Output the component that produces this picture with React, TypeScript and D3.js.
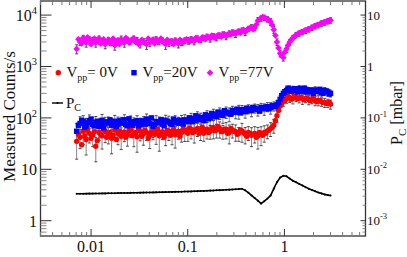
import React from "react";
import * as d3 from "d3";

// x positions of the first sample set (log axis)
const X = [
  0.0071, 0.0077, 0.0083, 0.0089, 0.0096, 0.0104, 0.0112, 0.0121, 0.013, 0.014,
  0.0151, 0.0163, 0.0176, 0.019, 0.0205, 0.0221, 0.0238, 0.0257, 0.0277, 0.0299,
  0.0322, 0.0348, 0.0375, 0.0405, 0.0437, 0.0471, 0.0508, 0.0548, 0.0591, 0.0638,
  0.0688, 0.0742, 0.08, 0.0863, 0.0931, 0.1004, 0.1083, 0.1168, 0.126, 0.136,
  0.1467, 0.1582, 0.1707, 0.1841, 0.1986, 0.2142, 0.2311, 0.2493, 0.2689, 0.29,
  0.313, 0.3376, 0.3641, 0.3928, 0.4237, 0.457, 0.493, 0.5318, 0.5737, 0.6188,
  0.6675, 0.72, 0.7767, 0.8378, 0.9037, 0.9748, 1.0515, 1.1342, 1.2235, 1.3198,
  1.4236, 1.5356, 1.6565, 1.7868, 1.9274, 2.0791, 2.2427, 2.4192, 2.6095, 2.8148,
  3.0,
];
// x positions of the interleaved second sample set
const X_B = [
  0.0074, 0.008, 0.0086, 0.0092, 0.01, 0.0108, 0.0116, 0.0125, 0.0135, 0.0145,
  0.0157, 0.0169, 0.0183, 0.0197, 0.0213, 0.0229, 0.0247, 0.0267, 0.0288, 0.031,
  0.0335, 0.0361, 0.039, 0.0421, 0.0454, 0.0489, 0.0528, 0.0569, 0.0614, 0.0663,
  0.0714, 0.077, 0.0831, 0.0896, 0.0967, 0.1043, 0.1125, 0.1213, 0.1309, 0.1413,
  0.1524, 0.1643, 0.1773, 0.1912, 0.2062, 0.2225, 0.24, 0.2589, 0.2793, 0.3013,
  0.325, 0.3506, 0.3782, 0.408, 0.44, 0.4747, 0.512, 0.5523, 0.5958, 0.6427,
  0.6932, 0.7478, 0.8067, 0.8701, 0.9386, 1.0124, 1.0921, 1.178, 1.2707, 1.3707,
  1.4785, 1.5949, 1.7204, 1.8558, 2.0018, 2.1594, 2.3293, 2.5126, 2.7103, 2.906,
];

const MAG = [
  2200, 3000, 3600, 2900, 3400, 3200, 2900, 3500, 3100, 2700,
  3300, 3000, 2600, 3200, 3400, 2900, 3300, 3100, 3500, 3200,
  2800, 3100, 2700, 2900, 3300, 3400, 3100, 3200, 2700, 2900,
  3000, 3200, 2800, 3000, 3200, 3200, 3400, 3100, 3500, 3300,
  3600, 3800, 3500, 3900, 3700, 4000, 4200, 3900, 4400, 4600,
  4300, 4800, 5000, 4700, 5400, 5800, 5600, 7800, 8600, 8900,
  8300, 7400, 5200, 3000, 1800, 1500, 2200, 3000, 3600, 4100,
  4400, 4700, 5000, 5300, 5700, 6100, 6400, 6900, 7200, 7600,
  7900,
];
const MAG_B = [
  3400, 2800, 3200, 3700, 2700, 3500, 3300, 2800, 3400, 3000,
  2800, 3500, 3100, 2700, 3100, 3600, 2900, 3400, 3000, 2700,
  3300, 2900, 3500, 3100, 2800, 3000, 3500, 2900, 3300, 3100,
  2700, 3100, 3300, 2900, 3400, 3000, 3300, 3600, 3200, 3700,
  3400, 3700, 4000, 3600, 4100, 3800, 4300, 4100, 4200, 4500,
  4700, 4500, 5200, 5100, 5600, 5300, 6500, 8300, 9200, 8600,
  7900, 6400, 4000, 2300, 1600, 1900, 2600, 3300, 3800, 4300,
  4600, 4900, 5200, 5500, 5900, 6300, 6700, 7100, 7500, 7800,
];
const BLUE = [
  55, 78, 85, 70, 88, 75, 82, 68, 90, 76,
  80, 72, 86, 74, 79, 92, 70, 84, 77, 88,
  73, 81, 95, 78, 69, 85, 80, 76, 90, 83,
  74, 88, 79, 86, 92, 84, 98, 90, 105, 95,
  88, 110, 100, 118, 105, 125, 112, 130, 120, 140,
  128, 135, 145, 132, 150, 140, 155, 145, 160, 150,
  165, 158, 170, 180, 230, 300, 340, 360, 350, 340,
  370, 330, 360, 340, 320, 350, 330, 310, 340, 320,
  300,
];
const BLUE_B = [
  72, 90, 66, 80, 95, 70, 86, 78, 64, 84,
  92, 76, 68, 88, 82, 74, 96, 72, 85, 70,
  88, 76, 84, 100, 74, 82, 92, 70, 86, 78,
  95, 82, 90, 76, 88, 100, 86, 110, 92, 102,
  115, 96, 122, 108, 130, 115, 138, 125, 118, 135,
  148, 125, 140, 155, 138, 160, 148, 135, 155, 162,
  150, 172, 165, 200, 270, 320, 380, 330, 370, 320,
  350, 380, 320, 350, 300, 330, 360, 300, 330, 290,
];
const RED = [
  35, 42, 55, 38, 50, 46, 28, 52, 45, 55,
  48, 40, 58, 50, 44, 53, 47, 60, 50, 43,
  55, 49, 52, 46, 58, 51, 45, 54, 48, 56,
  50, 47, 55, 52, 58, 50, 60, 54, 62, 56,
  50, 60, 55, 65, 58, 62, 55, 60, 52, 58,
  54, 50, 56, 48, 52, 46, 50, 45, 48, 52,
  56, 62, 72, 110, 170, 210, 235, 250, 240, 255,
  245, 235, 240, 225, 230, 215, 220, 205, 200, 195,
  185,
];
const RED_B = [
  48, 30, 44, 58, 40, 54, 36, 48, 60, 42,
  52, 46, 38, 55, 50, 42, 56, 45, 52, 62,
  44, 58, 40, 52, 48, 60, 50, 42, 57, 46,
  58, 52, 44, 60, 54, 64, 52, 58, 50, 66,
  58, 52, 62, 56, 68, 54, 60, 50, 62, 55,
  48, 58, 52, 44, 50, 48, 42, 52, 46, 50,
  58, 66, 88, 140, 190, 220, 260, 230, 265, 235,
  250, 225, 245, 215, 235, 205, 215, 200, 190, 200,
];
// chamber pressure in µbar (1e-3 mbar)
const PC_UBAR = [
  3.34, 3.35, 3.35, 3.36, 3.37, 3.37, 3.38, 3.39, 3.4, 3.4,
  3.41, 3.42, 3.43, 3.44, 3.45, 3.46, 3.47, 3.48, 3.49, 3.5,
  3.51, 3.52, 3.53, 3.54, 3.55, 3.56, 3.58, 3.59, 3.6, 3.62,
  3.63, 3.64, 3.66, 3.67, 3.69, 3.7, 3.72, 3.74, 3.76, 3.78,
  3.8, 3.82, 3.85, 3.87, 3.9, 3.93, 3.96, 3.99, 4.02, 4.06,
  4.09, 4.13, 4.17, 3.9, 3.5, 3.1, 2.75, 2.45, 2.15, 2.4,
  2.7, 3.1, 4.2, 5.6, 6.9, 7.5, 7.3, 6.6, 6.0, 5.6,
  5.2, 4.85, 4.5, 4.2, 3.95, 3.75, 3.55, 3.4, 3.25, 3.15,
  3.1,
];

const RED_ERR = [
  0.55, 0.4, 0.45, 0.5, 0.35, 0.4, 0.5, 0.3, 0.45, 0.4,
  0.35, 0.5, 0.3, 0.4, 0.45, 0.35, 0.4, 0.3, 0.45, 0.5,
  0.35, 0.4, 0.3, 0.45, 0.35, 0.4, 0.5, 0.3, 0.4, 0.35,
  0.4, 0.45, 0.3, 0.35, 0.4, 0.3, 0.35, 0.4, 0.3, 0.35,
  0.3, 0.35, 0.3, 0.4, 0.3, 0.35, 0.3, 0.35, 0.4, 0.3,
  0.35, 0.3, 0.4, 0.35, 0.3, 0.4, 0.35, 0.45, 0.4, 0.35,
  0.3, 0.3, 0.3, 0.25, 0.2, 0.2, 0.18, 0.2, 0.22, 0.18,
  0.2, 0.22, 0.18, 0.2, 0.18, 0.2, 0.22, 0.18, 0.2, 0.18,
  0.2,
];
const BLUE_ERR = [
  0.4, 0.35, 0.3, 0.4, 0.3, 0.35, 0.3, 0.4, 0.3, 0.35,
  0.3, 0.35, 0.3, 0.4, 0.3, 0.25, 0.35, 0.3, 0.3, 0.25,
  0.35, 0.3, 0.25, 0.3, 0.4, 0.3, 0.3, 0.35, 0.25, 0.3,
  0.35, 0.25, 0.3, 0.3, 0.25, 0.3, 0.25, 0.3, 0.25, 0.3,
  0.3, 0.25, 0.3, 0.25, 0.3, 0.25, 0.3, 0.25, 0.3, 0.2,
  0.25, 0.3, 0.2, 0.25, 0.2, 0.25, 0.2, 0.25, 0.2, 0.25,
  0.2, 0.25, 0.2, 0.2, 0.2, 0.18, 0.15, 0.15, 0.18, 0.15,
  0.15, 0.18, 0.15, 0.15, 0.18, 0.15, 0.15, 0.18, 0.15, 0.15,
  0.15,
];
const MAG_ERR = [
  0.2, 0.15, 0.12, 0.18, 0.12, 0.15, 0.18, 0.12, 0.15, 0.18,
  0.12, 0.15, 0.2, 0.12, 0.15, 0.18, 0.12, 0.15, 0.12, 0.15,
  0.18, 0.12, 0.2, 0.15, 0.12, 0.12, 0.15, 0.12, 0.2, 0.15,
  0.15, 0.12, 0.18, 0.15, 0.12, 0.15, 0.12, 0.15, 0.12, 0.12,
  0.12, 0.12, 0.15, 0.12, 0.15, 0.12, 0.12, 0.15, 0.12, 0.12,
  0.15, 0.12, 0.12, 0.15, 0.12, 0.12, 0.12, 0.15, 0.12, 0.12,
  0.12, 0.15, 0.15, 0.15, 0.15, 0.15, 0.15, 0.12, 0.12, 0.12,
  0.12, 0.12, 0.12, 0.12, 0.12, 0.12, 0.12, 0.12, 0.12, 0.12,
  0.12,
];

const X_TICKS = [0.01, 0.1, 1];
const X_TICK_LABELS = ["0.01", "0.1", "1"];
const LEFT_EXP = [0, 1, 2, 3, 4];
const RIGHT_EXP = [-3, -2, -1, 0, 1];

const W = 407, H = 257;
const L = 40.5, R = 365.5, T = 1, B = 236;
const FONT = "'Liberation Serif', 'Times New Roman', serif";

export default function App() {
  const x = d3.scaleLog().domain([0.003, 6.9]).range([L, R]);
  const y = d3.scaleLog().domain([0.504, 18800]).range([B, T]);
  const yR = d3.scaleLog().domain([0.000504, 18.8]).range([B, T]);

  const xMinor: number[] = [];
  for (let e = -3; e <= 0; e++) for (let m = 1; m <= 9; m++) {
    const v = m * Math.pow(10, e);
    if (v >= 0.003 && v <= 6.9) xMinor.push(v);
  }
  const yMinor: number[] = [];
  for (let e = -1; e <= 4; e++) for (let m = 1; m <= 9; m++) {
    const v = m * Math.pow(10, e);
    if (v >= 0.504 && v <= 18800) yMinor.push(v);
  }
  const yRMinor = yMinor.map((v) => v / 1000);

  const errBars = (xs: number[], vals: number[], errs: number[], key: string, col: string) =>
    vals.map((v, i) => {
      const px = x(xs[i]);
      const e = errs[i] ?? 0.2;
      const lo = Math.max(v * (1 - e), 0.6);
      const hi = v * (1 + e);
      return (
        <g key={key + i} stroke={col} strokeWidth={0.9}>
          <line x1={px} x2={px} y1={y(lo)} y2={y(hi)} />
          <line x1={px - 1.5} x2={px + 1.5} y1={y(lo)} y2={y(lo)} stroke="#333" />
          <line x1={px - 1.5} x2={px + 1.5} y1={y(hi)} y2={y(hi)} stroke="#333" />
        </g>
      );
    });

  const circles = (xs: number[], vals: number[], key: string) =>
    vals.map((v, i) => <circle key={key + i} cx={x(xs[i])} cy={y(v)} r={2.7} fill="#ff0000" />);
  const squares = (xs: number[], vals: number[], key: string) =>
    vals.map((v, i) => (
      <rect key={key + i} x={x(xs[i]) - 2.7} y={y(v) - 2.7} width={5.4} height={5.4} fill="#0000ff" />
    ));
  const diamonds = (xs: number[], vals: number[], key: string) =>
    vals.map((v, i) => {
      const cx = x(xs[i]), cy = y(v), s = 3.3;
      return <path key={key + i} d={`M${cx},${cy - s}L${cx + s},${cy}L${cx},${cy + s}L${cx - s},${cy}Z`} fill="#ff00ff" />;
    });

  const pcLine = d3
    .line<number>()
    .x((_, i) => x(X[i]))
    .y((v) => yR(v / 1000))
    .curve(d3.curveLinear);

  const sup = (base: string, exp: string, fs: number) => (
    <>
      {base}
      <tspan fontSize={fs * 0.65} dy={-fs * 0.45}>{exp}</tspan>
    </>
  );

  const legendItem = (val: string) => (
    <>
      V<tspan fontSize={10} dy={3.5}>pp</tspan>
      <tspan dy={-3.5}>{val}</tspan>
    </>
  );

  return (
    <svg width={W} height={H} style={{ position: "absolute", left: 0, top: 0, background: "#fff" }} fontFamily={FONT}>
      {/* error bars */}
      {errBars(X, RED, RED_ERR, "re", "#777")}
      {errBars(X, BLUE, BLUE_ERR, "be", "#777")}
      {circles(X, RED, "r")}
      {circles(X_B, RED_B, "rb")}
      {squares(X, BLUE, "b")}
      {squares(X_B, BLUE_B, "bb")}
      {errBars(X, MAG, MAG_ERR, "me", "#444")}
      {diamonds(X, MAG, "m")}
      {diamonds(X_B, MAG_B, "mb")}
      {/* pressure line */}
      <path d={pcLine(PC_UBAR) || ""} fill="none" stroke="#000" strokeWidth={1.6} />
      {PC_UBAR.map((v, i) => (
        <circle key={"p" + i} cx={x(X[i])} cy={yR(v / 1000)} r={1} fill="#000" />
      ))}

      {/* frame */}
      <rect x={L} y={T} width={R - L} height={B - T} fill="none" stroke="#333" strokeWidth={1.3} />

      {/* x ticks */}
      {xMinor.map((v, i) => {
        const major = X_TICKS.some((t) => Math.abs(t - v) / t < 1e-6);
        const len = major ? 7 : 4;
        return (
          <g key={"xt" + i} stroke={major ? "#333" : "#777"} strokeWidth={1}>
            <line x1={x(v)} x2={x(v)} y1={B} y2={B - len} />
            <line x1={x(v)} x2={x(v)} y1={T} y2={T + len} />
          </g>
        );
      })}
      {X_TICKS.map((v, i) => (
        <text key={"xl" + i} x={x(v)} y={252} textAnchor="middle" fontSize={16} fill="#111">
          {X_TICK_LABELS[i]}
        </text>
      ))}

      {/* left ticks */}
      {yMinor.map((v, i) => {
        const major = Math.abs(Math.log10(v) - Math.round(Math.log10(v))) < 1e-6;
        return (
          <line key={"yl" + i} x1={L} x2={L + (major ? 11 : 6)} y1={y(v)} y2={y(v)} stroke={major ? "#333" : "#888"} strokeWidth={1} />
        );
      })}
      {LEFT_EXP.map((e) => (
        <text key={"ly" + e} x={37} y={y(Math.pow(10, e)) + 6} textAnchor="end" fontSize={16} fill="#111">
          {e === 0 ? "1" : e === 1 ? "10" : sup("10", String(e), 16)}
        </text>
      ))}

      {/* right ticks */}
      {yRMinor.map((v, i) => {
        const major = Math.abs(Math.log10(v) - Math.round(Math.log10(v))) < 1e-6;
        return (
          <line key={"yr" + i} x1={R} x2={R - (major ? 5 : 3)} y1={yR(v)} y2={yR(v)} stroke={major ? "#333" : "#888"} strokeWidth={1} />
        );
      })}
      {RIGHT_EXP.map((e) => (
        <text key={"ry" + e} x={367} y={yR(Math.pow(10, e)) + 4.5} textAnchor="start" fontSize={13} fill="#111">
          {e === 0 ? "1" : e === 1 ? "10" : sup("10", String(e), 13)}
        </text>
      ))}

      {/* axis titles */}
      <text transform={`translate(15,116.5) rotate(-90)`} textAnchor="middle" fontSize={17} fill="#111">
        Measured Counts/s
      </text>
      <text transform={`translate(402,113) rotate(-90)`} textAnchor="middle" fontSize={16} fill="#111">
        P<tspan fontSize={11} dy={3.5}>C</tspan>
        <tspan dy={-3.5}> [mbar]</tspan>
      </text>

      {/* legend */}
      <circle cx={58.3} cy={72.7} r={2.7} fill="#ff0000" />
      <text x={66.5} y={77} fontSize={15} fill="#111">{legendItem("= 0V")}</text>
      <rect x={134 - 2.7} y={72.7 - 2.7} width={5.4} height={5.4} fill="#0000ff" />
      <text x={142.5} y={77} fontSize={15} fill="#111">{legendItem("=20V")}</text>
      <path d={`M210,${72.7 - 3.3}L${213.3},72.7L210,${72.7 + 3.3}L${206.7},72.7Z`} fill="#ff00ff" />
      <text x={218.5} y={77} fontSize={15} fill="#111">{legendItem("=77V")}</text>

      <line x1={52} x2={63} y1={103} y2={103} stroke="#000" strokeWidth={1.4} />
      <circle cx={57.5} cy={103} r={1} fill="#000" />
      <text x={66} y={107.5} fontSize={15} fill="#111">
        P<tspan fontSize={10} dy={3.5}>C</tspan>
      </text>
    </svg>
  );
}
